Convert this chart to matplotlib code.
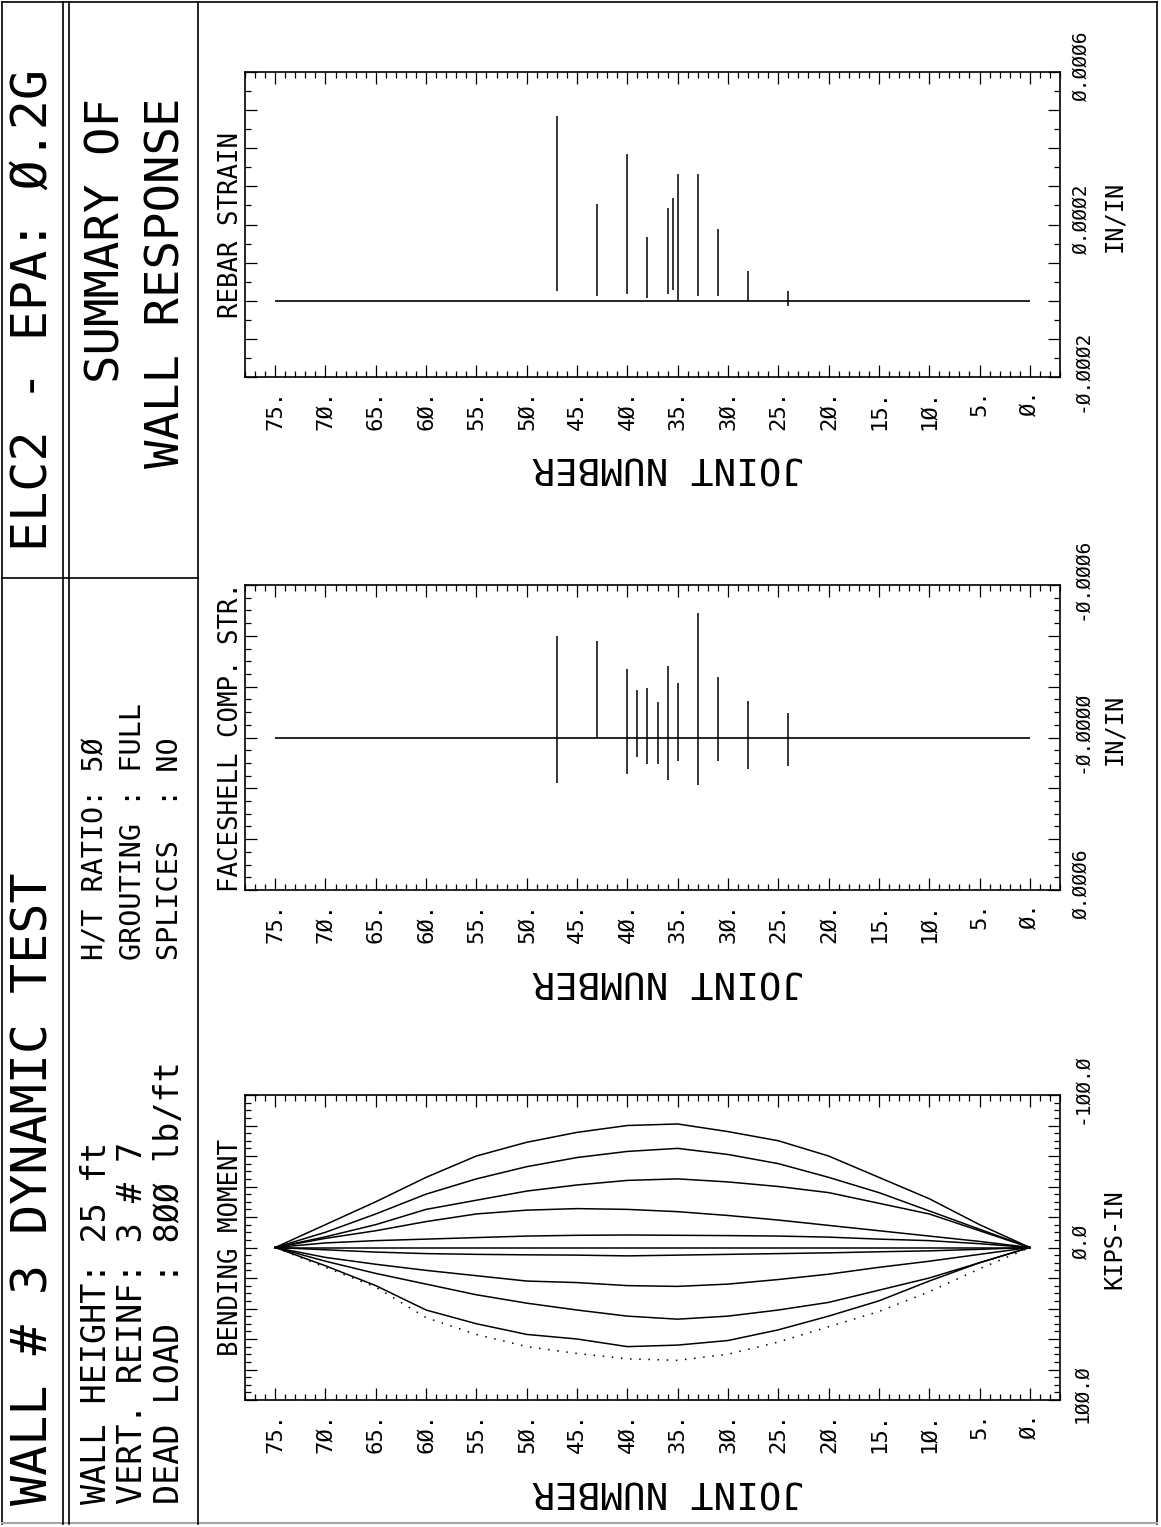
import numpy as np
import matplotlib
matplotlib.use('Agg')
import matplotlib.pyplot as plt
from matplotlib.lines import Line2D
from matplotlib.ticker import MultipleLocator
import matplotlib.transforms as mtransforms

# ---------------------------------------------------------------- data
JOINTS = [75, 70, 65, 60, 55, 50, 45, 40, 35, 30, 25, 20, 15, 10, 5, 0]
MOMENT_1 = [0, -15, -30, -46, -60, -69, -75.5, -80, -81, -76, -70, -60, -46, -32, -15, 0]
MOMENT_2 = [0, -10, -22, -35, -45, -53, -59, -63, -65, -61, -55, -46, -36, -24, -12, 0]
MOMENT_3 = [0, -7, -15, -25, -31, -37, -41, -44, -45, -43, -40, -36, -29, -22, -11, 0]
MOMENT_4 = [0, -6, -11, -17, -22, -24.5, -25.5, -25, -23.5, -21, -18, -14.5, -11, -7.5, -4, 0]
MOMENT_5 = [0, -3, -4.5, -5.5, -6.5, -7.5, -8, -8.2, -8, -7.8, -7.5, -6.8, -5.5, -4.5, -2.5, 0]
MOMENT_6 = [0, 0, 0, 0, 0, 0, 0, 0, 0, 0, 0, 0, 0, 0, 0, 0]
MOMENT_7 = [0, 1.5, 3, 4, 4.5, 4.8, 5, 5.5, 5, 4.5, 4, 3.5, 2.8, 2.2, 1.2, 0]
MOMENT_8 = [0, 6.5, 11, 15, 18.5, 22, 23, 25, 25.5, 24, 21, 17.5, 13, 9, 4.5, 0]
MOMENT_9 = [0, 9, 17, 24, 31, 36.5, 41, 45, 47, 45, 41, 36, 28, 20, 10, 0]
MOMENT_10 = [0, 12, 25, 41, 50, 57, 60, 65, 64, 61, 54, 45, 35, 22, 10, 0]
MOMENT_ENVELOPE = [0, 13, 26, 46, 57, 65, 69.5, 73, 74, 70, 62, 52, 42, 29, 14, 0]
MOMENT_CURVES = [MOMENT_1, MOMENT_2, MOMENT_3, MOMENT_4, MOMENT_5, MOMENT_6,
                 MOMENT_7, MOMENT_8, MOMENT_9, MOMENT_10]

FACESHELL_JOINTS = [47, 43, 40, 39, 38, 37, 36, 35, 33, 31, 28, 24]
FACESHELL_MIN = [-0.000398, -0.000378, -0.000269, -0.000187, -0.000194, -0.000141,
                 -0.000282, -0.000214, -0.000490, -0.000237, -0.000145, -0.000095]
FACESHELL_MAX = [0.000179, 0.0, 0.000142, 0.000077, 0.000105, 0.000105,
                 0.000169, 0.000092, 0.000185, 0.000092, 0.000123, 0.000113]

REBAR_JOINTS = [47, 43, 40, 38, 36, 35.5, 35, 33, 31, 28, 24]
REBAR_MIN = [0.000026, 0.000012, 0.000019, 0.000006, 0.000019, 0.000028,
             0.0, 0.000012, 0.000012, 0.0, -0.000013]
REBAR_MAX = [0.000484, 0.000254, 0.000384, 0.000167, 0.000242, 0.000270,
             0.000333, 0.000333, 0.000189, 0.000077, 0.000026]

WALL_TOP_JOINT = 75
WALL_BOTTOM_JOINT = 0

JOINT_TICKS = [75, 70, 65, 60, 55, 50, 45, 40, 35, 30, 25, 20, 15, 10, 5, 0]
JOINT_TICK_LABELS = ['75.', '7Ø.', '65.', '6Ø.', '55.', '5Ø.', '45.', '4Ø.',
                     '35.', '3Ø.', '25.', '2Ø.', '15.', '1Ø.', '5.', 'Ø.']
MOMENT_TICK_LABELS = {100.0: '1ØØ.Ø', 0.0: 'Ø.Ø', -100.0: '-1ØØ.Ø'}
FACESHELL_TICK_LABELS = {0.0006: 'Ø.ØØØ6', 0.0: '-Ø.ØØØØ', -0.0006: '-Ø.ØØØ6'}
REBAR_TICK_LABELS = {-0.0002: '-Ø.ØØØ2', 0.0002: 'Ø.ØØØ2', 0.0006: 'Ø.ØØØ6'}

TITLE_1 = 'WALL # 3 DYNAMIC TEST'
TITLE_2 = 'ELC2 - EPA: Ø.2G'
SPECS_LEFT = ['WALL HEIGHT: 25 ft', 'VERT. REINF: 3 # 7', 'DEAD LOAD  : 8ØØ lb/ft']
SPECS_RIGHT = ['H/T RATIO: 5Ø', 'GROUTING : FULL', 'SPLICES  : NO']
SUMMARY = ['SUMMARY OF', 'WALL RESPONSE']

# ---------------------------------------------------------------- figure
W, H, DPI = 1161, 1527, 100
plt.rcParams['font.family'] = ['DejaVu Sans Mono', 'DejaVu Sans']
fig = plt.figure(figsize=(W / DPI, H / DPI), dpi=DPI)
fig.patch.set_facecolor('white')


def fx(x):
    return x / W


def fy(y):
    return 1 - y / H


def fline(x0, y0, x1, y1, color='black', lw=1.2):
    fig.add_artist(Line2D([fx(x0), fx(x1)], [fy(y0), fy(y1)],
                          transform=fig.transFigure, color=color, lw=lw))


def ftext(x, y, s, size, ha='left'):
    fig.text(fx(x), fy(y), s, fontsize=size, rotation=90, rotation_mode='anchor',
             ha=ha, va='center', color='black')


# frame
fline(2, 2, 1157, 2)
fline(2, 2, 2, 1524)
fline(1157, 2, 1157, 1524)
fline(2, 1523, 1157, 1523, color='0.65', lw=1.5)
fline(63, 2, 63, 1524)
fline(69, 2, 69, 1524)
fline(198, 2, 198, 1524)
fline(2, 578, 198, 578)

# header texts
ftext(33, 1505, TITLE_1, 36, ha='left')
ftext(33, 310, TITLE_2, 36, ha='center')
for i, s in enumerate(SPECS_LEFT):
    ftext(96 + 37 * i, 1504, s, 24, ha='left')
for i, s in enumerate(SPECS_RIGHT):
    ftext(96 + 37 * i, 960, s, 20.5, ha='left')
ftext(107, 98, SUMMARY[0], 34, ha='right')
ftext(167, 98, SUMMARY[1], 34, ha='right')

BOX_LEFT, BOX_RIGHT, BOX_H = 245, 1060, 305


def make_panel(top, title, lims, major_step, minor_step, label_map, unit):
    bottom = top + BOX_H
    ax = fig.add_axes([fx(BOX_LEFT), fy(bottom), (BOX_RIGHT - BOX_LEFT) / W, BOX_H / H])
    for sp in ax.spines.values():
        sp.set_linewidth(1.2)
    # joint axis (horizontal)
    ax.set_xlim(78, -3)
    ax.set_xticks(JOINT_TICKS, JOINT_TICK_LABELS, rotation=90, ha='center', va='top')
    ax.xaxis.set_minor_locator(MultipleLocator(1))
    # value axis (vertical)
    ax.set_ylim(*lims)
    vmin, vmax = min(lims), max(lims)
    majors = np.arange(vmin, vmax + major_step / 2, major_step)
    minors = np.arange(vmin, vmax + minor_step / 2, minor_step)
    labels = [label_map.get(round(float(v), 8), '') for v in majors]
    ax.set_yticks(majors, labels, rotation=90, va='center')
    ax.set_yticks(minors, minor=True)
    ax.tick_params(axis='both', which='both', direction='in', top=True, bottom=True,
                   left=True, right=True, labelleft=False, labelright=True,
                   labeltop=False, labelbottom=True, width=0.9, color='black')
    ax.tick_params(axis='both', which='major', length=8.5)
    ax.tick_params(axis='both', which='minor', length=4.5)
    ax.tick_params(axis='x', which='major', pad=9, labelsize=16)
    ax.tick_params(axis='y', which='major', pad=8.5, labelsize=14)
    off = mtransforms.ScaledTranslation(0, 6 / DPI, fig.dpi_scale_trans)
    for t in ax.yaxis.get_major_ticks():
        t.label2.set_transform(t.label2.get_transform() + off)
    # labels
    ax.yaxis.set_label_position('right')
    ax.set_ylabel(unit, fontsize=17, rotation=90)
    ax.yaxis.label.set_va('center')
    ax.yaxis.label.set_ha('center')
    ax.yaxis.set_label_coords((1114 - BOX_LEFT) / (BOX_RIGHT - BOX_LEFT), 0.5 + 8 / BOX_H)
    ax.set_xlabel('JOINT NUMBER', fontsize=27, rotation=180)
    ax.xaxis.label.set_va('center')
    ax.xaxis.label.set_ha('center')
    ax.xaxis.set_label_coords((668 - BOX_LEFT) / (BOX_RIGHT - BOX_LEFT), -90 / BOX_H)
    ax.text((238 - BOX_LEFT) / (BOX_RIGHT - BOX_LEFT), 0.5, title, transform=ax.transAxes,
            rotation=90, rotation_mode='anchor', ha='center', va='baseline', fontsize=18.5)
    return ax


# rebar strain panel
ax3 = make_panel(72, 'REBAR STRAIN', (-0.0002, 0.0006), 0.0001, 0.00005,
                 REBAR_TICK_LABELS, 'IN/IN')
ax3.hlines(0, WALL_TOP_JOINT, WALL_BOTTOM_JOINT, color='black', lw=1.2)
ax3.vlines(REBAR_JOINTS, REBAR_MIN, REBAR_MAX, color='black', lw=1.1)

# faceshell compressive strain panel
ax2 = make_panel(585, 'FACESHELL COMP. STR.', (0.0006, -0.0006), 0.0002, 0.00005,
                 FACESHELL_TICK_LABELS, 'IN/IN')
ax2.hlines(0, WALL_TOP_JOINT, WALL_BOTTOM_JOINT, color='black', lw=1.2)
ax2.vlines(FACESHELL_JOINTS, FACESHELL_MIN, FACESHELL_MAX, color='black', lw=1.1)

# bending moment panel
ax1 = make_panel(1095, 'BENDING MOMENT', (100, -100), 20, 5,
                 MOMENT_TICK_LABELS, 'KIPS-IN')
for curve in MOMENT_CURVES:
    ax1.plot(JOINTS, curve, color='black', lw=1.1)
ax1.plot(JOINTS, MOMENT_ENVELOPE, color='black', lw=1.1, linestyle=(0, (1, 5)))

fig.savefig('out.png', dpi=DPI, facecolor='white')
